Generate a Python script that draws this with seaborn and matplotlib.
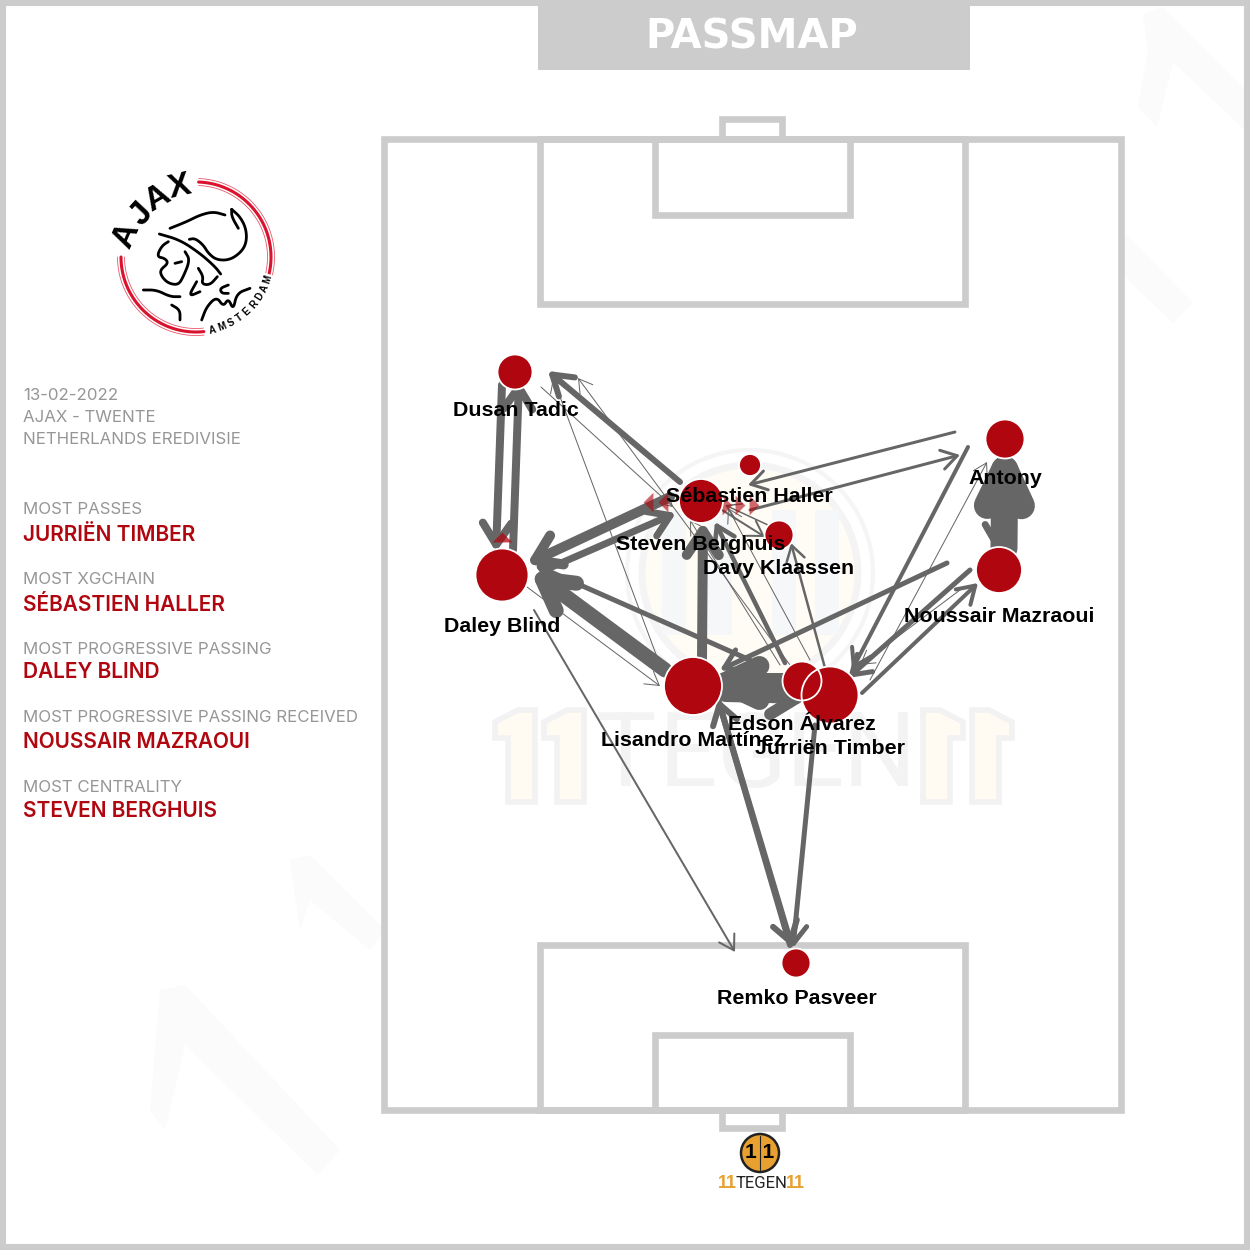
import matplotlib
matplotlib.use("Agg")
import matplotlib.pyplot as plt
from matplotlib.patches import Rectangle, Circle, Polygon, FancyArrowPatch
import numpy as np
import pandas as pd
import seaborn as sns

sns.set_theme(style="white")
plt.rcParams['font.family'] = ['Liberation Sans', 'DejaVu Sans']

GREY = '#cccccc'
RED = '#b0060f'
ARROW = '#666666'

# nodes in pixels
player_names = ["Dusan Tadic", "Daley Blind", "Steven Berghuis", "Sébastien Haller", "Davy Klaassen", "Antony",
                "Noussair Mazraoui", "Lisandro Martínez", "Edson Álvarez", "Jurriën Timber", "Remko Pasveer"]
player_x = [515, 502, 701, 750, 779, 1005, 999, 693, 802, 830, 796]
player_y = [372, 575, 501, 465, 535, 439, 570, 686, 681, 695, 963]
player_radius = [17.5, 26.5, 22, 11, 14.5, 19.5, 23, 29, 19.5, 28.5, 14.5]
label_x = [516, 502, 701, 749, 779, 1005, 999, 693, 802, 830, 797]
label_y = [410, 626, 545, 496, 568, 479, 616, 741, 724, 749, 998]

# passes between players
pass_x0 = [502, 513, 680, 545, 670, 665, 750, 702, 725, 785, 947, 790, 815, 718, 534, 527, 541, 660, 790, 785, 810, 780, 825, 722, 768, 955, 750, 968, 970, 862, 870, 960, 1004, 1002]
pass_y0 = [385, 550, 482, 570, 497, 670, 660, 660, 696, 683, 563, 945, 725, 699, 610, 587, 387, 665, 665, 663, 660, 665, 668, 510, 525, 432, 510, 447, 570, 693, 680, 590, 548, 460]
pass_x1 = [496, 519, 548, 676, 527, 530, 535, 703, 808, 700, 720, 718, 793, 792, 735, 660, 673, 553, 578, 715, 728, 690, 791, 765, 725, 748, 960, 852, 848, 978, 987, 860, 1005, 997]
pass_y1 = [552, 380, 371, 513, 564, 570, 565, 522, 698, 683, 670, 699, 948, 947, 952, 686, 507, 378, 378, 522, 508, 520, 543, 537, 505, 485, 455, 670, 678, 583, 462, 665, 438, 552]
pass_width = [8, 8, 6, 7, 10, 15, 5, 10, 12, 20, 5, 6, 5, 6, 2, 1, 1, 1, 1, 4.5, 1, 1, 2.5, 2, 1.5, 3, 3, 4, 5, 4, 1, 1, 27, 7]

# progressive passing triangles
left_tri_x = [648, 663]
left_tri_y = [502, 502]
right_tri_x = [727, 740, 754]
right_tri_y = [505, 505, 505]
up_tri_x = [502]
up_tri_y = [537]

side_grey = ["13-02-2022", "AJAX - TWENTE", "NETHERLANDS EREDIVISIE", "MOST PASSES", "MOST XGCHAIN",
             "MOST PROGRESSIVE PASSING", "MOST PROGRESSIVE PASSING RECEIVED", "MOST CENTRALITY"]
side_grey_y = [395, 417, 440, 510, 579, 649, 718, 788]
side_red = ["JURRIËN TIMBER", "SÉBASTIEN HALLER", "DALEY BLIND", "NOUSSAIR MAZRAOUI", "STEVEN BERGHUIS"]
side_red_y = [535, 605, 672, 742, 811]

players = pd.DataFrame({"x": player_x, "y": player_y, "s": [(2 * r * 0.72) ** 2 for r in player_radius]})


def smooth(points, rounds=3):
    # corner cutting so the crest strokes are not so angular
    pts = np.array(points, dtype=float)
    for _ in range(rounds):
        a = pts[:-1] * 0.75 + pts[1:] * 0.25
        b = pts[:-1] * 0.25 + pts[1:] * 0.75
        mid = np.empty((a.shape[0] * 2, 2))
        mid[0::2] = a
        mid[1::2] = b
        pts = np.vstack([pts[:1], mid, pts[-1:]])
    return pts


fig = plt.figure(figsize=(12.5, 12.5), dpi=100, facecolor='white')
ax = fig.add_axes([0, 0, 1, 1])
ax.set_xlim(0, 1250)
ax.set_ylim(1250, 0)
ax.axis('off')
ax.set_autoscale_on(False)

# faint background marks
faint = '#fbfbfb'
for pts in [[(1143, 15), (1162, 7), (1250, 95), (1250, 135), (1173, 62), (1157, 127), (1138, 107), (1148, 50)],
            [(1125, 233), (1193, 303), (1173, 323), (1125, 277)],
            [(160, 990), (185, 985), (340, 1150), (318, 1175), (185, 1045), (165, 1130), (150, 1110)],
            [(290, 860), (310, 855), (385, 930), (370, 950), (310, 900), (300, 930)]]:
    ax.add_patch(Polygon(pts, closed=True, fc=faint, ec='none', zorder=0))

# faint centre logo
ax.add_patch(Circle((750, 573), 123, fc='white', ec='#f5f5f5', lw=3, zorder=0))
ax.add_patch(Circle((750, 573), 108, fc='#fffcf6', ec='#f4f4f4', lw=5, zorder=0))
for x0, w in [(662, 24), (708, 24), (772, 24), (815, 24)]:
    ax.add_patch(Rectangle((x0, 510), w, 125, fc='#f6f7f8', ec='none', zorder=0))

# faint 11 TEGEN 11
for pts in [[(495, 722), (518, 710), (535, 710), (535, 802), (508, 802), (508, 738), (495, 738)],
            [(544, 722), (567, 710), (584, 710), (584, 802), (557, 802), (557, 738), (544, 738)],
            [(923, 710), (940, 710), (963, 722), (963, 738), (950, 738), (950, 802), (923, 802)],
            [(972, 710), (989, 710), (1012, 722), (1012, 738), (999, 738), (999, 802), (972, 802)]]:
    ax.add_patch(Polygon(pts, closed=True, fc='#fffaf2', ec='#f2f2f2', lw=4, zorder=0))
for letter, x in zip("TEGEN", [625, 688, 752, 815, 879]):
    ax.text(x, 758, letter, color='#f3f3f3', fontsize=74, family='Roboto', ha='center', va='center', zorder=0)

# frame and title
ax.add_patch(Rectangle((3, 3), 1244, 1244, fc='none', ec=GREY, lw=4.4, zorder=1))
ax.add_patch(Rectangle((538, 0), 432, 70, fc=GREY, ec='none', zorder=1))
ax.text(752, 37.5, "PASSMAP", color='white', fontsize=28.8, fontweight='bold', family='DejaVu Sans', ha='center', va='center', zorder=2)

# pitch
pitch_lw = 4.8
for x0, y0, x1, y1 in [(384, 139, 1121, 1110), (540, 139, 965, 304), (655, 139, 850, 215), (722, 119, 782, 139),
                       (540, 945, 965, 1110), (655, 1035, 850, 1110), (722, 1110, 782, 1128)]:
    ax.add_patch(Rectangle((x0, y0), x1 - x0, y1 - y0, fc='none', ec=GREY, lw=pitch_lw, zorder=1))

# passes, sizes in pixels turned into points
for x0, y0, x1, y1, w in zip(pass_x0, pass_y0, pass_x1, pass_y1, pass_width):
    head_len = min(12 + 1.2 * w, 36) * 0.72
    head_wid = min(7 + 0.9 * w, 17) * 0.72
    ax.add_patch(FancyArrowPatch((x0, y0), (x1, y1), arrowstyle=f'->,head_length={head_len},head_width={head_wid}',
                                 mutation_scale=1, lw=w * 0.72, color=ARROW, shrinkA=0, shrinkB=0,
                                 capstyle='round', joinstyle='round', zorder=3))

# triangles
sns.scatterplot(x=left_tri_x, y=left_tri_y, marker=[(1, -2), (-1, 0), (1, 2)], s=200, color=RED, alpha=0.6, linewidth=0, ax=ax, zorder=4)
sns.scatterplot(x=right_tri_x, y=right_tri_y, marker=[(-1, -2), (1, 0), (-1, 2)], s=200, color=RED, alpha=0.6, linewidth=0, ax=ax, zorder=4)
sns.scatterplot(x=up_tri_x, y=up_tri_y, marker=[(-2, -1), (0, 1), (2, -1)], s=200, color=RED, alpha=0.75, linewidth=0, ax=ax, zorder=4)

# nodes, fill first then the rings so overlapping rings both show
sns.scatterplot(data=players, x="x", y="y", s=players["s"].values, color=RED, linewidth=0, ax=ax, zorder=5)
sns.scatterplot(data=players, x="x", y="y", s=players["s"].values, facecolor='none', edgecolor='white', linewidth=1.3, ax=ax, zorder=6)

for name, x, y in zip(player_names, label_x, label_y):
    ax.text(x, y, name, color='black', fontsize=15.4, fontweight='bold', ha='center', va='center', zorder=7)

# side panel
for t, y in zip(side_grey, side_grey_y):
    ax.text(23, y, t, color='#969696', fontsize=12.15, family='Inter', ha='left', va='center', zorder=2)
for t, y in zip(side_red, side_red_y):
    ax.text(23, y, t, color=RED, fontsize=15, family='Inter', fontweight='semibold', ha='left', va='center', zorder=2)

# ajax crest
logo_cx, logo_cy, logo_r = 196, 257, 75
for rr, lw2, col in [(0, 2.2, '#d9122e'), (-3.5, 0.6, '#e6586c'), (3.5, 0.6, '#e6586c')]:
    for a0, a1 in [(-88, 14), (84, 180)]:
        ang = np.radians(np.linspace(a0, a1, 80))
        ax.plot(logo_cx + (logo_r + rr) * np.cos(ang), logo_cy + (logo_r + rr) * np.sin(ang), color=col, lw=lw2, zorder=2)
for letter, px, py, rot in [("A", 126, 236, 66), ("J", 142, 214, 47), ("A", 157, 199, 30), ("X", 180, 187, 13)]:
    ax.text(px, py, letter, color='black', fontsize=24, fontweight='bold', ha='center', va='center', rotation=rot, zorder=2)
for letter, ang_deg in zip("AMSTERDAM", [77, 69.5, 62, 54.5, 47, 39.5, 32, 24.5, 17]):
    ang = np.radians(ang_deg)
    ax.text(logo_cx + 75 * np.cos(ang), logo_cy + 75 * np.sin(ang), letter, color='black', fontsize=7, fontweight='bold',
            ha='center', va='center', rotation=90 - ang_deg, zorder=3,
            bbox=dict(fc='white', ec='none', pad=0.6))
crest_lines = [
    [(210, 205), (260, 185), (300, 165), (340, 155), (375, 165)],
    [(395, 148), (395, 170), (415, 205)],
    [(395, 148), (420, 170), (438, 205), (440, 245), (425, 275), (390, 300), (350, 300), (325, 280), (310, 255), (285, 235), (268, 238)],
    [(178, 222), (240, 240), (300, 280), (345, 320), (362, 342)],
    [(205, 245), (185, 258), (170, 290), (195, 295), (205, 310), (180, 330), (185, 350), (205, 370), (235, 375), (250, 350), (270, 300), (255, 275)],
    [(225, 310), (245, 305)],
    [(295, 325), (310, 350), (305, 372), (330, 375), (352, 350)],
    [(130, 390), (170, 390), (210, 410), (240, 410)],
    [(215, 435), (240, 450), (240, 480)],
    [(290, 365), (265, 410), (300, 395)],
    [(305, 480), (320, 440), (350, 410), (370, 440), (385, 415), (400, 450), (410, 400), (450, 385)],
    [(385, 375), (360, 385), (365, 400), (385, 400)],
]
for line in crest_lines:
    pts = smooth(line)
    ax.plot(100 + pts[:, 0] / 3, 160 + pts[:, 1] / 3, color='black', lw=2.0, solid_capstyle='round', solid_joinstyle='round', zorder=2)

# small 11 tegen logo
ax.add_patch(Circle((760, 1153), 19, fc='#e8a030', ec='#222222', lw=1.8, zorder=2))
ax.plot([760, 760], [1136, 1170], color='#222222', lw=0.8, zorder=3)
ax.text(760, 1153, "1 1", color='black', fontsize=15, fontweight='bold', ha='center', va='center', zorder=3)
ax.text(761, 1184, "TEGEN", color='#222222', fontsize=12, family='Roboto', ha='center', va='center', zorder=2)
ax.text(727, 1184, "11", color='#e8a030', fontsize=13, fontweight='bold', ha='center', va='center', zorder=2)
ax.text(795, 1184, "11", color='#e8a030', fontsize=13, fontweight='bold', ha='center', va='center', zorder=2)

plt.savefig("out.png", dpi=100)
plt.close()
